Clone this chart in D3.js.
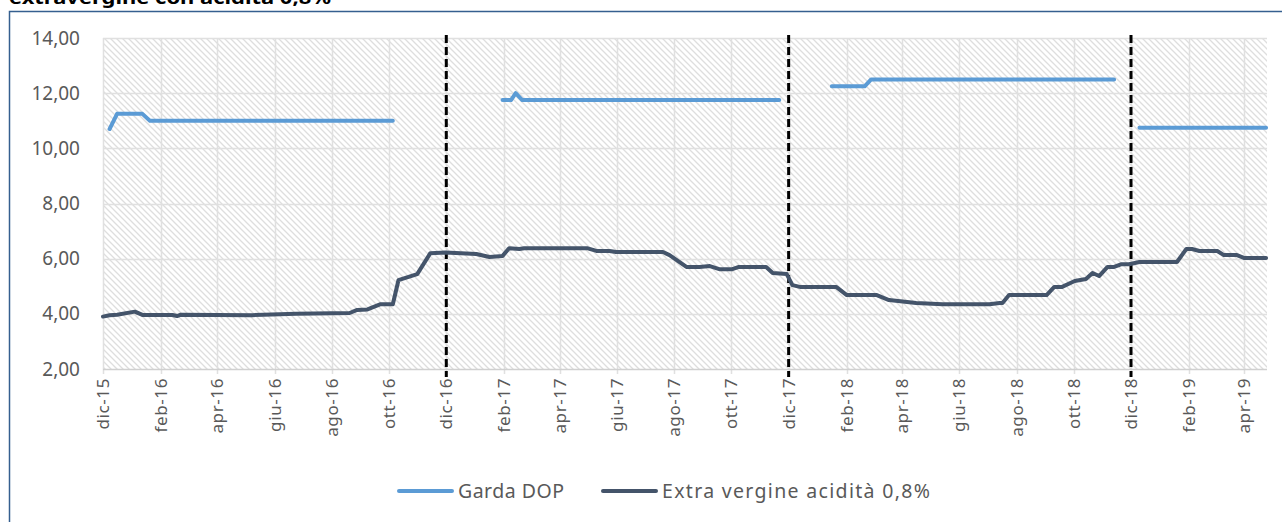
<!DOCTYPE html>
<html>
<head>
<meta charset="utf-8">
<script src="https://cdn.jsdelivr.net/npm/d3@7"></script>
<style>
  body { margin: 0; background: #fff; }
  svg text { font-family: 'Noto Sans', 'Open Sans', sans-serif; }
</style>
</head>
<body>
<div id="chart"></div>
<script>
// data (weekly prices, only the points where the line turns)
var gardaDates = ['2015-12-08','2015-12-16','2016-01-12','2016-01-20','2016-10-05', null,
  '2017-01-30','2017-02-08','2017-02-13','2017-02-20','2017-11-21', null,
  '2018-01-16','2018-02-20','2018-02-27','2018-11-13', null,
  '2018-12-10','2019-04-24']
var gardaValues = [10.7,11.25,11.25,11.0,11.0, null,
  11.75,11.75,12.0,11.75,11.75, null,
  12.25,12.25,12.5,12.5, null,
  10.75,10.75]

var evDates = ['2015-12-01','2015-12-08','2015-12-16','2016-01-04','2016-01-12','2016-02-13','2016-02-18','2016-02-22',
  '2016-05-08','2016-05-20','2016-06-24','2016-08-20','2016-08-28','2016-09-08','2016-09-22','2016-10-05','2016-10-11',
  '2016-10-31','2016-11-14','2016-11-30','2017-01-02','2017-01-16','2017-01-30','2017-02-06','2017-02-17','2017-02-22',
  '2017-04-30','2017-05-10','2017-05-24','2017-05-31','2017-07-20','2017-07-27','2017-08-14','2017-08-28','2017-09-08',
  '2017-09-18','2017-10-02','2017-10-09','2017-11-07','2017-11-14','2017-11-29','2017-12-05','2017-12-14','2018-01-21',
  '2018-02-01','2018-03-05','2018-03-18','2018-04-16','2018-05-14','2018-07-03','2018-07-14','2018-07-17','2018-07-24',
  '2018-09-02','2018-09-10','2018-09-18','2018-10-02','2018-10-14','2018-10-21','2018-10-28','2018-11-06','2018-11-13',
  '2018-11-21','2018-11-29','2018-12-10','2019-01-19','2019-01-29','2019-02-04','2019-02-12','2019-03-03','2019-03-10',
  '2019-03-24','2019-04-01','2019-04-24']
var evValues = [3.9,3.95,3.97,4.08,3.96,3.96,3.92,3.97,
  3.95,3.97,4.0,4.03,4.14,4.16,4.35,4.35,5.22,
  5.44,6.2,6.22,6.17,6.06,6.1,6.38,6.35,6.38,
  6.38,6.28,6.28,6.24,6.24,6.13,5.7,5.7,5.73,
  5.62,5.62,5.7,5.7,5.48,5.44,5.04,4.97,4.97,
  4.68,4.68,4.5,4.39,4.35,4.35,4.39,4.39,4.68,
  4.68,4.97,4.97,5.19,5.26,5.48,5.37,5.7,5.7,
  5.8,5.8,5.88,5.88,6.35,6.35,6.28,6.28,6.13,
  6.13,6.02,6.02]

var yTicks = [2,4,6,8,10,12,14]
var xTickDates = ['2015-12-01','2016-02-01','2016-04-01','2016-06-01','2016-08-01','2016-10-01','2016-12-01',
  '2017-02-01','2017-04-01','2017-06-01','2017-08-01','2017-10-01','2017-12-01',
  '2018-02-01','2018-04-01','2018-06-01','2018-08-01','2018-10-01','2018-12-01',
  '2019-02-01','2019-04-01']
var xTickLabels = ['dic-15','feb-16','apr-16','giu-16','ago-16','ott-16','dic-16',
  'feb-17','apr-17','giu-17','ago-17','ott-17','dic-17',
  'feb-18','apr-18','giu-18','ago-18','ott-18','dic-18',
  'feb-19','apr-19']
var seasonBreaks = ['2016-12-01','2017-12-01','2018-12-01']
var legendNames = ['Garda DOP', 'Extra vergine acidità 0,8%']
var titleText = 'extravergine con acidità 0,8%'

var width = 1282, height = 522
var parseDate = d3.timeParse('%Y-%m-%d')

var svg = d3.select('#chart')
  .append('svg')
    .attr('width', width)
    .attr('height', height)

// hatch fill like the excel pattern
var defs = svg.append('defs')
var pat = defs.append('pattern')
  .attr('id', 'hatch')
  .attr('patternUnits', 'userSpaceOnUse')
  .attr('width', 6)
  .attr('height', 6)
pat.append('rect').attr('width', 6).attr('height', 6).attr('fill', '#fff')
pat.append('path')
  .attr('d', 'M-1,-1 L7,7 M-4,2 L2,8 M4,-2 L8,2')
  .attr('stroke', '#dedede')
  .attr('stroke-width', 1.3)

// outer frame
svg.append('rect')
  .attr('x', 9.5).attr('y', 11.5)
  .attr('width', 1400).attr('height', 600)
  .attr('fill', 'none')
  .attr('stroke', '#355f8f')
  .attr('stroke-width', 1.5)

// title, only its lower part shows
svg.append('text')
  .attr('x', 9)
  .attr('y', 4)
  .attr('font-weight', 'bold')
  .attr('font-size', '18px')
  .attr('textLength', 322)
  .attr('lengthAdjust', 'spacingAndGlyphs')
  .attr('fill', '#000')
  .text(titleText)

var x = d3.scaleTime()
  .domain([parseDate('2015-12-01'), parseDate('2019-04-25')])
  .range([103, 1267])
var y = d3.scaleLinear().domain([2, 14]).range([369, 38])

svg.append('rect')
  .attr('x', x.range()[0]).attr('y', y(14))
  .attr('width', x.range()[1] - x.range()[0])
  .attr('height', y(2) - y(14))
  .attr('fill', 'url(#hatch)')

var xTicks = xTickDates.map(function(d, i) { return {date: parseDate(d), label: xTickLabels[i]} })

// gridlines
svg.append('g').selectAll('line')
  .data(yTicks.slice(1))
  .enter().append('line')
    .attr('x1', x.range()[0]).attr('x2', x.range()[1])
    .attr('y1', function(d) { return Math.round(y(d)) + 0.5 })
    .attr('y2', function(d) { return Math.round(y(d)) + 0.5 })
    .attr('stroke', '#e0e0e0')
    .attr('stroke-width', 1.5)

svg.append('g').selectAll('line')
  .data(xTicks)
  .enter().append('line')
    .attr('x1', function(d) { return Math.round(x(d.date)) + 0.5 })
    .attr('x2', function(d) { return Math.round(x(d.date)) + 0.5 })
    .attr('y1', y(14)).attr('y2', y(2) + 5)
    .attr('stroke', '#e0e0e0')
    .attr('stroke-width', 1.5)

// x axis line
svg.append('line')
  .attr('x1', x.range()[0]).attr('x2', x.range()[1])
  .attr('y1', y(2) + 0.5).attr('y2', y(2) + 0.5)
  .attr('stroke', '#d0d0d0')
  .attr('stroke-width', 1.5)

// y tick labels
svg.append('g').selectAll('text')
  .data(yTicks)
  .enter().append('text')
    .attr('x', 80)
    .attr('y', function(d) { return y(d) })
    .attr('dy', '0.35em')
    .attr('text-anchor', 'end')
    .attr('font-size', '19px')
    .attr('fill', '#595959')
    .text(function(d) { return d.toFixed(2).replace('.', ',') })

// x tick labels, rotated
svg.append('g').selectAll('text')
  .data(xTicks)
  .enter().append('text')
    .attr('transform', function(d) { return 'translate(' + x(d.date) + ',' + (y(2) + 9) + ') rotate(-90)' })
    .attr('dy', '0.35em')
    .attr('text-anchor', 'end')
    .attr('font-size', '17px')
    .attr('letter-spacing', '0.6px')
    .attr('fill', '#595959')
    .text(function(d) { return d.label })

// dashed season lines
svg.append('g').selectAll('line')
  .data(seasonBreaks)
  .enter().append('line')
    .attr('x1', function(d) { return x(parseDate(d)) })
    .attr('x2', function(d) { return x(parseDate(d)) })
    .attr('y1', y(14) - 3).attr('y2', y(2) + 8)
    .attr('stroke', '#000')
    .attr('stroke-width', 3)
    .attr('stroke-dasharray', '8,4')

var line = d3.line()
  .defined(function(d) { return d.value !== null })
  .x(function(d) { return x(d.date) })
  .y(function(d) { return y(d.value) })

var garda = gardaDates.map(function(d, i) { return {date: d ? parseDate(d) : null, value: gardaValues[i]} })
var ev = evDates.map(function(d, i) { return {date: parseDate(d), value: evValues[i]} })

svg.append('path')
  .datum(garda)
  .attr('d', line)
  .attr('fill', 'none')
  .attr('stroke', '#5b9bd5')
  .attr('stroke-width', 4)
  .attr('stroke-linecap', 'round')
  .attr('stroke-linejoin', 'round')

svg.append('path')
  .datum(ev)
  .attr('d', line)
  .attr('fill', 'none')
  .attr('stroke', '#44546a')
  .attr('stroke-width', 4)
  .attr('stroke-linecap', 'round')
  .attr('stroke-linejoin', 'round')

// legend
var legendColors = ['#5b9bd5', '#44546a']
var legendX = [399, 603]
var legendLen = [106, 268]
var lg = svg.append('g').selectAll('g')
  .data(legendNames)
  .enter().append('g')
    .attr('transform', function(d, i) { return 'translate(' + legendX[i] + ',491)' })
lg.append('line')
  .attr('x1', 0).attr('x2', 53)
  .attr('stroke', function(d, i) { return legendColors[i] })
  .attr('stroke-width', 4)
  .attr('stroke-linecap', 'round')
lg.append('text')
  .attr('x', 59)
  .attr('dy', '0.35em')
  .attr('font-size', '19.5px')
  .attr('textLength', function(d, i) { return legendLen[i] })
  .attr('lengthAdjust', 'spacing')
  .attr('fill', '#595959')
  .text(function(d) { return d })
</script>
</body>
</html>
